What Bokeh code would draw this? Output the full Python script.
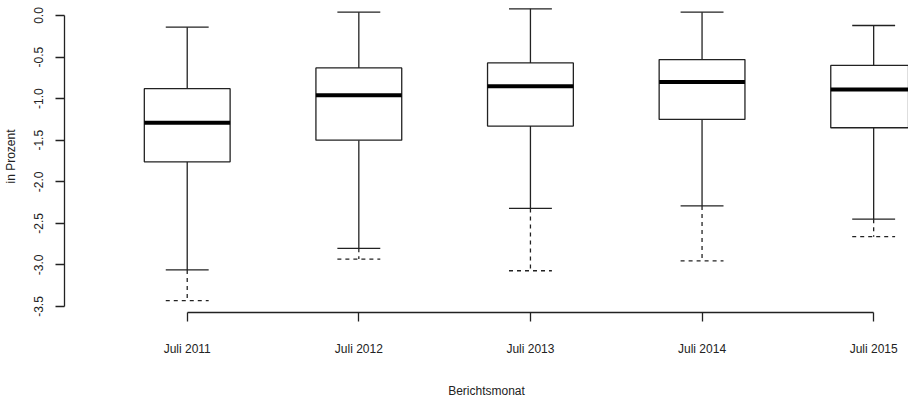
from bokeh.plotting import figure
from bokeh.models import FixedTicker, Range1d, ColumnDataSource
from bokeh.transform import dodge
from bokeh.embed import file_html
from bokeh.resources import INLINE

# ---- data ----
months = ["Juli 2011", "Juli 2012", "Juli 2013", "Juli 2014", "Juli 2015"]
positions = [1, 2, 3, 4, 5]
upper_whisker = [-0.14, 0.04, 0.08, 0.04, -0.12]
q3 = [-0.88, -0.63, -0.57, -0.53, -0.60]
median = [-1.29, -0.96, -0.85, -0.80, -0.89]
q1 = [-1.76, -1.50, -1.33, -1.25, -1.35]
lower_whisker = [-3.06, -2.80, -2.32, -2.29, -2.45]
lower_extreme = [-3.43, -2.93, -3.07, -2.95, -2.66]
y_ticks = [0.0, -0.5, -1.0, -1.5, -2.0, -2.5, -3.0, -3.5]
y_tick_labels = ["0.0", "-0.5", "-1.0", "-1.5", "-2.0", "-2.5", "-3.0", "-3.5"]

src = ColumnDataSource(dict(x=positions, uw=upper_whisker, q3=q3, med=median,
                            q1=q1, lw=lower_whisker, le=lower_extreme))

FONT = "Liberation Sans"
LC = "#222222"

p = figure(width=908, height=401, output_backend="svg", toolbar_location=None,
           x_range=Range1d(0.2849, 5.203), y_range=Range1d(-3.572, 0.1804),
           min_border_left=62, min_border_right=0, min_border_top=0,
           min_border_bottom=89)
p.outline_line_color = None
p.xgrid.visible = False
p.ygrid.visible = False
p.background_fill_color = "white"
p.border_fill_color = "white"

# whiskers
p.segment(x0="x", y0="uw", x1="x", y1="q3", source=src, line_color=LC, line_width=1.3)
p.segment(x0="x", y0="q1", x1="x", y1="lw", source=src, line_color=LC, line_width=1.3)
p.segment(x0=dodge("x", -0.125), y0="uw", x1=dodge("x", 0.125), y1="uw", source=src,
          line_color=LC, line_width=1.3)
p.segment(x0=dodge("x", -0.125), y0="lw", x1=dodge("x", 0.125), y1="lw", source=src,
          line_color=LC, line_width=1.3)
# dashed extension
p.segment(x0="x", y0="lw", x1="x", y1="le", source=src, line_color=LC, line_width=1.3,
          line_dash="4 4")
p.segment(x0=dodge("x", -0.125), y0="le", x1=dodge("x", 0.125), y1="le", source=src,
          line_color=LC, line_width=1.3, line_dash="4 4")
# boxes
p.vbar(x="x", width=0.5, top="q3", bottom="q1", source=src, fill_color="white",
       line_color=LC, line_width=1.3)
# medians
p.segment(x0=dodge("x", -0.25), y0="med", x1=dodge("x", 0.25), y1="med", source=src,
          line_color="black", line_width=4, line_cap="butt")

# x axis
xa = p.xaxis[0]
xa.ticker = FixedTicker(ticks=positions)
xa.major_label_overrides = {x: m for x, m in zip(positions, months)}
xa.bounds = (positions[0], positions[-1])
xa.axis_label = "Berichtsmonat"
xa.major_tick_out = 9
xa.major_tick_in = 0
xa.minor_tick_out = 0
xa.minor_tick_in = 0
xa.major_label_standoff = 20
xa.axis_label_standoff = 25

# y axis
ya = p.yaxis[0]
ya.ticker = FixedTicker(ticks=y_ticks)
ya.major_label_overrides = {t: l for t, l in zip(y_ticks, y_tick_labels)}
ya.bounds = (y_ticks[-1], y_ticks[0])
ya.axis_label = "in Prozent"
ya.major_label_orientation = "vertical"
ya.major_tick_out = 9
ya.major_tick_in = 0
ya.minor_tick_out = 0
ya.minor_tick_in = 0
ya.major_label_standoff = 12
ya.axis_label_standoff = 14

for a in [xa, ya]:
    a.axis_line_color = LC
    a.axis_line_width = 1.3
    a.major_tick_line_color = LC
    a.major_tick_line_width = 1.3
    a.major_label_text_font = FONT
    a.major_label_text_font_size = "12px"
    a.major_label_text_color = "#222222"
    a.axis_label_text_font = FONT
    a.axis_label_text_font_size = "12px"
    a.axis_label_text_font_style = "normal"
    a.axis_label_text_color = "#222222"

open("out.html", "w").write(file_html(p, INLINE))
